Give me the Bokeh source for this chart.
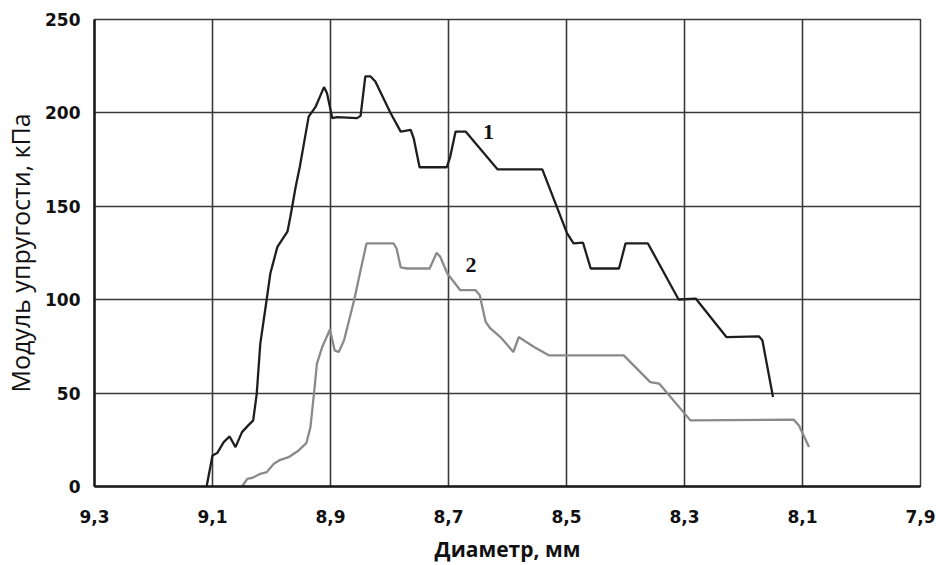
from bokeh.plotting import figure
from bokeh.models import Range1d, FixedTicker, CustomJSTickFormatter
from bokeh.core.properties import value
from bokeh.embed import file_html
from bokeh.resources import INLINE

# Curve 1 (black)
x1 = [9.110, 9.100, 9.092, 9.081, 9.071, 9.061, 9.050, 9.041, 9.031, 9.025, 9.019, 9.010,
      9.002, 8.990, 8.973, 8.968, 8.959, 8.952, 8.945, 8.937, 8.925, 8.911, 8.906, 8.897,
      8.889, 8.855, 8.849, 8.841, 8.832, 8.824, 8.798, 8.781, 8.764, 8.759, 8.749, 8.703,
      8.697, 8.688, 8.671, 8.617, 8.541, 8.499, 8.488, 8.472, 8.459, 8.411, 8.400, 8.362,
      8.310, 8.281, 8.229, 8.174, 8.168, 8.150]
y1 = [0, 16.6, 17.9, 23.8, 26.8, 21.1, 29.1, 32.2, 35.4, 49.7, 76.5, 96.1,
      114, 128.3, 136.4, 144.4, 160.5, 171.2, 183.7, 198, 203.4, 213.8, 210.6, 197.2,
      197.7, 197.2, 198.4, 219.5, 219.5, 216.8, 199.8, 190, 190.9, 186.4, 170.9, 170.9,
      176.6, 190, 190, 169.8, 169.8, 135.5, 130.1, 130.5, 116.7, 116.7, 130.1, 130.1,
      100.1, 100.6, 80, 80.4, 78.3, 47.9]

# Curve 2 (gray)
x2 = [9.050, 9.041, 9.033, 9.019, 9.008, 8.996, 8.985, 8.971, 8.954, 8.941, 8.934, 8.928,
      8.923, 8.914, 8.901, 8.893, 8.886, 8.877, 8.860, 8.849, 8.839, 8.793, 8.788, 8.781,
      8.770, 8.732, 8.720, 8.714, 8.702, 8.680, 8.654, 8.647, 8.637, 8.629, 8.612, 8.590,
      8.581, 8.555, 8.530, 8.403, 8.358, 8.343, 8.290, 8.115, 8.106, 8.089]
y2 = [0, 4.1, 4.6, 6.8, 7.7, 12.2, 14.3, 15.7, 19.3, 23.2, 31.8, 49.7,
      65.8, 74.7, 84, 72.9, 72, 78.3, 99.7, 115.8, 130.1, 130.1, 127.4, 117.3,
      116.7, 116.7, 125.1, 123, 114, 105.1, 105.1, 102.4, 88.1, 84.6, 80, 72,
      80, 74.7, 70.2, 70.2, 55.9, 55.1, 35.4, 35.8, 32.7, 21.1]

x_ticks = [9.3, 9.1, 8.9, 8.7, 8.5, 8.3, 8.1, 7.9]
y_ticks = [0, 50, 100, 150, 200, 250]
label_x = [8.632, 8.662]
label_y = [190, 118.5]
label_txt = ["1", "2"]

p = figure(width=936, height=565, output_backend="svg", toolbar_location=None,
           x_range=Range1d(9.3, 7.9), y_range=Range1d(0, 250),
           min_border_left=94, min_border_right=16, min_border_top=19, min_border_bottom=79)
p.background_fill_color = "white"
p.border_fill_color = "white"
p.outline_line_color = "#3a3a3a"
p.outline_line_width = 1.5

p.xaxis.ticker = FixedTicker(ticks=x_ticks)
p.yaxis.ticker = FixedTicker(ticks=y_ticks)
p.xaxis.formatter = CustomJSTickFormatter(code="return tick.toFixed(1).replace('.', ',');")

for ax in (p.xaxis[0], p.yaxis[0]):
    ax.major_tick_line_color = None
    ax.minor_tick_line_color = None
    ax.axis_line_color = "#1a1a1a"
    ax.axis_line_width = 2.5
    ax.major_label_text_font = "DejaVu Sans"
    ax.major_label_text_font_style = "bold"
    ax.major_label_text_font_size = "17px"
    ax.major_label_text_color = "#111111"
    ax.axis_label_text_font = "Open Sans"
    ax.axis_label_text_color = "#111111"

p.xaxis.axis_label = "Диаметр, мм"
p.xaxis.axis_label_text_font_style = "bold"
p.xaxis.axis_label_text_font_size = "21px"
p.xaxis.major_label_standoff = 17
p.xaxis.axis_label_standoff = 9
p.yaxis.axis_label = "Модуль упругости, кПа"
p.yaxis.axis_label_text_font_style = "normal"
p.yaxis.axis_label_text_font_size = "25px"
p.yaxis.major_label_standoff = 8
p.yaxis.axis_label_standoff = 5

p.grid.grid_line_color = "#3a3a3a"
p.grid.grid_line_width = 1.6
p.xgrid.ticker = FixedTicker(ticks=x_ticks)
p.ygrid.ticker = FixedTicker(ticks=y_ticks)

p.line(x1, y1, line_color="#1e1e1e", line_width=2.3)
p.line(x2, y2, line_color="#8a8a8a", line_width=2.3)

p.text(x=label_x, y=label_y, text=label_txt, text_font=value("Liberation Serif"),
       text_font_style="bold", text_font_size="22px", text_color="#111111",
       text_align="center", text_baseline="middle")

open("out.html", "w").write(file_html(p, INLINE))
